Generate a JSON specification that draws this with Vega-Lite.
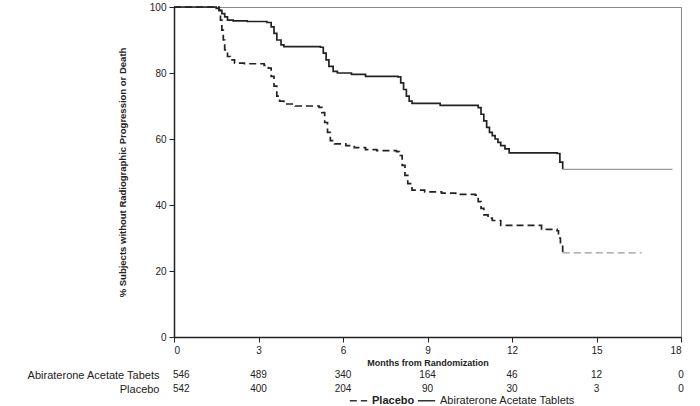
{
  "$schema": "https://vega.github.io/schema/vega-lite/v6.json",
  "padding": {"left": 26, "top": 1, "right": 5, "bottom": 0},
  "config": {
    "font": "Liberation Sans",
    "axis": {"grid": false, "domainColor": "#222", "tickColor": "#222", "labelColor": "#222", "titleColor": "#222"}
  },
  "spacing": 0,
  "resolve": {"scale": {"strokeDash": "shared"}, "legend": {"strokeDash": "shared"}},
  "datasets": {
    "km": [
      {"arm": "Abiraterone Acetate Tablets", "month": 0, "pct": 100},
      {"arm": "Abiraterone Acetate Tablets", "month": 1.5, "pct": 99.6},
      {"arm": "Abiraterone Acetate Tablets", "month": 1.6, "pct": 99},
      {"arm": "Abiraterone Acetate Tablets", "month": 1.7, "pct": 98},
      {"arm": "Abiraterone Acetate Tablets", "month": 1.8, "pct": 97},
      {"arm": "Abiraterone Acetate Tablets", "month": 1.9, "pct": 96},
      {"arm": "Abiraterone Acetate Tablets", "month": 2.1, "pct": 95.8},
      {"arm": "Abiraterone Acetate Tablets", "month": 2.6, "pct": 95.6},
      {"arm": "Abiraterone Acetate Tablets", "month": 3.3, "pct": 95.3},
      {"arm": "Abiraterone Acetate Tablets", "month": 3.45, "pct": 94},
      {"arm": "Abiraterone Acetate Tablets", "month": 3.55, "pct": 92},
      {"arm": "Abiraterone Acetate Tablets", "month": 3.65, "pct": 90},
      {"arm": "Abiraterone Acetate Tablets", "month": 3.8, "pct": 88.5},
      {"arm": "Abiraterone Acetate Tablets", "month": 3.9, "pct": 88},
      {"arm": "Abiraterone Acetate Tablets", "month": 5.2, "pct": 87.8},
      {"arm": "Abiraterone Acetate Tablets", "month": 5.3, "pct": 86},
      {"arm": "Abiraterone Acetate Tablets", "month": 5.4, "pct": 84},
      {"arm": "Abiraterone Acetate Tablets", "month": 5.5, "pct": 82},
      {"arm": "Abiraterone Acetate Tablets", "month": 5.65, "pct": 80.5},
      {"arm": "Abiraterone Acetate Tablets", "month": 5.8, "pct": 80},
      {"arm": "Abiraterone Acetate Tablets", "month": 6.3, "pct": 79.6},
      {"arm": "Abiraterone Acetate Tablets", "month": 6.8, "pct": 79},
      {"arm": "Abiraterone Acetate Tablets", "month": 7.95, "pct": 78.8},
      {"arm": "Abiraterone Acetate Tablets", "month": 8.05, "pct": 77},
      {"arm": "Abiraterone Acetate Tablets", "month": 8.15, "pct": 75},
      {"arm": "Abiraterone Acetate Tablets", "month": 8.25, "pct": 73},
      {"arm": "Abiraterone Acetate Tablets", "month": 8.35, "pct": 71.5},
      {"arm": "Abiraterone Acetate Tablets", "month": 8.45, "pct": 70.8},
      {"arm": "Abiraterone Acetate Tablets", "month": 9.45, "pct": 70.2},
      {"arm": "Abiraterone Acetate Tablets", "month": 10.8, "pct": 69.5},
      {"arm": "Abiraterone Acetate Tablets", "month": 10.9, "pct": 67.5},
      {"arm": "Abiraterone Acetate Tablets", "month": 11.0, "pct": 65.5},
      {"arm": "Abiraterone Acetate Tablets", "month": 11.1, "pct": 63.5},
      {"arm": "Abiraterone Acetate Tablets", "month": 11.2, "pct": 62},
      {"arm": "Abiraterone Acetate Tablets", "month": 11.3, "pct": 61},
      {"arm": "Abiraterone Acetate Tablets", "month": 11.4, "pct": 60},
      {"arm": "Abiraterone Acetate Tablets", "month": 11.5, "pct": 59},
      {"arm": "Abiraterone Acetate Tablets", "month": 11.6, "pct": 58},
      {"arm": "Abiraterone Acetate Tablets", "month": 11.75, "pct": 57},
      {"arm": "Abiraterone Acetate Tablets", "month": 11.9, "pct": 55.8},
      {"arm": "Abiraterone Acetate Tablets", "month": 13.6, "pct": 55.6},
      {"arm": "Abiraterone Acetate Tablets", "month": 13.7, "pct": 53},
      {"arm": "Abiraterone Acetate Tablets", "month": 13.8, "pct": 50.8},
      {"arm": "Abiraterone Acetate Tablets", "month": 17.7, "pct": 50.8},
      {"arm": "Placebo", "month": 0, "pct": 100},
      {"arm": "Placebo", "month": 1.6, "pct": 99},
      {"arm": "Placebo", "month": 1.65, "pct": 96},
      {"arm": "Placebo", "month": 1.7, "pct": 93},
      {"arm": "Placebo", "month": 1.75, "pct": 90},
      {"arm": "Placebo", "month": 1.8, "pct": 87},
      {"arm": "Placebo", "month": 1.9, "pct": 85},
      {"arm": "Placebo", "month": 2.0, "pct": 84},
      {"arm": "Placebo", "month": 2.15, "pct": 83},
      {"arm": "Placebo", "month": 2.5, "pct": 82.8},
      {"arm": "Placebo", "month": 3.2, "pct": 82.3},
      {"arm": "Placebo", "month": 3.35, "pct": 81.5},
      {"arm": "Placebo", "month": 3.45, "pct": 79},
      {"arm": "Placebo", "month": 3.55, "pct": 76},
      {"arm": "Placebo", "month": 3.65, "pct": 73},
      {"arm": "Placebo", "month": 3.75, "pct": 71.5},
      {"arm": "Placebo", "month": 3.9, "pct": 70.6},
      {"arm": "Placebo", "month": 4.3, "pct": 70},
      {"arm": "Placebo", "month": 5.15, "pct": 69.6},
      {"arm": "Placebo", "month": 5.25, "pct": 68},
      {"arm": "Placebo", "month": 5.35, "pct": 65},
      {"arm": "Placebo", "month": 5.45, "pct": 62},
      {"arm": "Placebo", "month": 5.55, "pct": 59.5},
      {"arm": "Placebo", "month": 5.7, "pct": 58.5},
      {"arm": "Placebo", "month": 6.1, "pct": 58},
      {"arm": "Placebo", "month": 6.4, "pct": 57.4},
      {"arm": "Placebo", "month": 6.8, "pct": 56.8},
      {"arm": "Placebo", "month": 7.2, "pct": 56.5},
      {"arm": "Placebo", "month": 7.9, "pct": 56.2},
      {"arm": "Placebo", "month": 8.0, "pct": 55},
      {"arm": "Placebo", "month": 8.1, "pct": 52},
      {"arm": "Placebo", "month": 8.2, "pct": 49},
      {"arm": "Placebo", "month": 8.3, "pct": 46.5},
      {"arm": "Placebo", "month": 8.45, "pct": 44.5},
      {"arm": "Placebo", "month": 8.9, "pct": 44},
      {"arm": "Placebo", "month": 9.5, "pct": 43.6},
      {"arm": "Placebo", "month": 10.0, "pct": 43.2},
      {"arm": "Placebo", "month": 10.7, "pct": 43},
      {"arm": "Placebo", "month": 10.8, "pct": 41},
      {"arm": "Placebo", "month": 10.9, "pct": 39},
      {"arm": "Placebo", "month": 11.0, "pct": 37},
      {"arm": "Placebo", "month": 11.15, "pct": 36},
      {"arm": "Placebo", "month": 11.3, "pct": 35.3},
      {"arm": "Placebo", "month": 11.6, "pct": 33.8},
      {"arm": "Placebo", "month": 13.05, "pct": 32.6},
      {"arm": "Placebo", "month": 13.6, "pct": 32.2},
      {"arm": "Placebo", "month": 13.65, "pct": 30},
      {"arm": "Placebo", "month": 13.72, "pct": 27.5},
      {"arm": "Placebo", "month": 13.8, "pct": 25.5},
      {"arm": "Placebo", "month": 16.6, "pct": 25.5}
    ],
    "risk": [
      {"row": "Abiraterone Acetate Tabets", "month": 0, "n": 546},
      {"row": "Abiraterone Acetate Tabets", "month": 3, "n": 489},
      {"row": "Abiraterone Acetate Tabets", "month": 6, "n": 340},
      {"row": "Abiraterone Acetate Tabets", "month": 9, "n": 164},
      {"row": "Abiraterone Acetate Tabets", "month": 12, "n": 46},
      {"row": "Abiraterone Acetate Tabets", "month": 15, "n": 12},
      {"row": "Abiraterone Acetate Tabets", "month": 18, "n": 0},
      {"row": "Placebo", "month": 0, "n": 542},
      {"row": "Placebo", "month": 3, "n": 400},
      {"row": "Placebo", "month": 6, "n": 204},
      {"row": "Placebo", "month": 9, "n": 90},
      {"row": "Placebo", "month": 12, "n": 30},
      {"row": "Placebo", "month": 15, "n": 3},
      {"row": "Placebo", "month": 18, "n": 0}
    ]
  },
  "vconcat": [
    {
      "width": 507,
      "height": 330,
      "view": {"stroke": "#888", "strokeWidth": 1},
      "data": {"name": "km"},
      "encoding": {
        "x": {
          "field": "month", "type": "quantitative",
          "scale": {"domain": [0, 18], "nice": false, "zero": false},
          "axis": {
            "values": [0, 3, 6, 9, 12, 15, 18], "title": "Months from Randomization",
            "domainWidth": 1.5, "tickSize": 5, "labelFontSize": 10, "labelPadding": 3,
            "titleFontSize": 9, "titleFontWeight": "bold", "titlePadding": 3
          }
        },
        "y": {
          "field": "pct", "type": "quantitative",
          "scale": {"domain": [0, 100], "nice": false},
          "axis": {
            "values": [0, 20, 40, 60, 80, 100],
            "title": "% Subjects without Radiographic Progression or Death",
            "domainWidth": 1.5, "tickSize": 5, "labelFontSize": 10, "labelPadding": 3,
            "titleFontSize": 9.5, "titleFontWeight": "bold", "titlePadding": 22
          }
        },
        "strokeDash": {
          "field": "arm", "type": "nominal",
          "scale": {"domain": ["Placebo", "Abiraterone Acetate Tablets"], "range": [[7, 4], [1, 0]]},
          "legend": {
            "title": null, "orient": "none", "direction": "horizontal",
            "legendX": 175, "legendY": 384,
            "symbolType": "stroke", "symbolStrokeColor": "#333", "symbolStrokeWidth": 1.3,
            "symbolSize": 300, "labelFontSize": 11, "labelColor": "#222", "columnPadding": 0, "symbolOffset": 0,
            "labelFontWeight": {"expr": "datum.label == 'Placebo' ? 'bold' : 'normal'"}
          }
        }
      },
      "layer": [
        {
          "transform": [{"filter": "datum.month <= 13.8"}],
          "mark": {"type": "line", "interpolate": "step-after", "color": "#222", "strokeWidth": 1.7}
        },
        {
          "transform": [{"filter": "datum.month >= 13.8"}],
          "mark": {"type": "line", "interpolate": "step-after", "color": "#999", "strokeWidth": 1.2}
        }
      ]
    },
    {
      "width": 507,
      "height": 28,
      "view": {"stroke": null},
      "data": {"name": "risk"},
      "encoding": {
        "x": {"field": "month", "type": "quantitative", "scale": {"domain": [0, 18], "nice": false}, "axis": null},
        "y": {
          "field": "row", "type": "nominal",
          "sort": ["Abiraterone Acetate Tabets", "Placebo"],
          "axis": {"title": null, "domain": false, "ticks": false, "labelFontSize": 11, "labelPadding": 15, "labelColor": "#222"}
        },
        "text": {"field": "n", "type": "quantitative"}
      },
      "layer": [
        {"transform": [{"filter": "datum.month > 0"}], "mark": {"type": "text", "fontSize": 10, "color": "#222"}},
        {"transform": [{"filter": "datum.month == 0"}], "mark": {"type": "text", "fontSize": 10, "color": "#222", "align": "left", "dx": -1}}
      ]
    }
  ]
}
